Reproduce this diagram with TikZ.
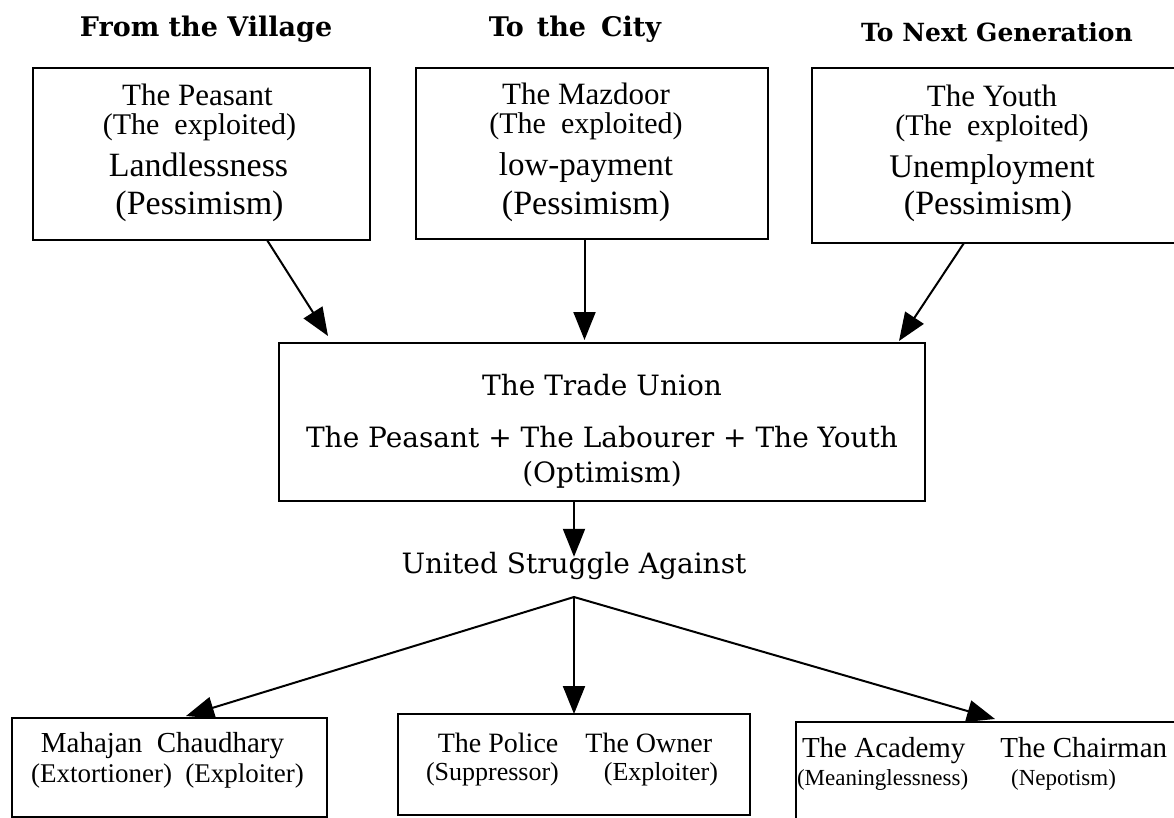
\documentclass[tikz,border=0pt]{standalone}
\usepackage{fontspec}
\setmainfont{Liberation Serif}
\newfontfamily\bk{DejaVu Serif}
\usetikzlibrary{arrows.meta,calc}
\newcommand\Bx[3]{\vbox to #2{\hsize=#1\relax\offinterlineskip #3\vss}}
\newcommand\CLine[3][0pt]{\vskip #2\hbox to \hsize{\hss\kern#1\smash{#3}\kern-#1\hss}}
\newcommand\LLine[3][0pt]{\vskip #2\hbox to \hsize{\kern#1\smash{#3}\hss}}
\newcommand\fs[1]{\fontsize{#1}{#1}\selectfont}
\begin{document}
\begin{tikzpicture}[x=1pt,y=-1pt,
  bx/.style={draw, line width=2.2pt, inner sep=0pt, outer sep=0pt},
  arr/.style={line width=2pt, -{Triangle[length=28pt,width=22pt]}},
  ttl/.style={font=\bk\bfseries, anchor=base, inner sep=0pt},
  bkt/.style={font=\bk\fs{28}, anchor=base, inner sep=0pt}]
\useasboundingbox (0,0) rectangle (1174,818);
\fill[white] (0,0) rectangle (1174,818);
\clip (0,0) rectangle (1174,818);
% titles
\node[ttl] (t1) at (206,37) {\fs{27}From the Village};
\node[ttl] (t2) at (575,37) {\fs{27}To\hskip 13pt the\hskip 15pt City};
\node[ttl] (t3) at (997,42) {\fs{25}To Next Generation};
% top boxes
\node[bx] (p) at (201.5,154) {\Bx{337pt}{172pt}{%
  \CLine[-4pt]{38pt}{\fs{31}The Peasant}%
  \CLine[-2pt]{29pt}{\fs{30}(The\ \ exploited)}%
  \CLine[-3pt]{42pt}{\fs{34}Landlessness}%
  \CLine[-2pt]{38pt}{\fs{34}(Pessimism)}}};
\node[bx] (m) at (592,153.5) {\Bx{352pt}{171pt}{%
  \CLine[-6pt]{37pt}{\fs{31}The Mazdoor}%
  \CLine[-6pt]{29pt}{\fs{30}(The\ \ exploited)}%
  \CLine[-6pt]{42pt}{\fs{33}low-payment}%
  \CLine[-6pt]{39pt}{\fs{34}(Pessimism)}}};
\node[bx] (y) at (994,155.5) {\Bx{364pt}{175pt}{%
  \CLine[-2pt]{39pt}{\fs{31}The Youth}%
  \CLine[-2pt]{29pt}{\fs{30}(The\ \ exploited)}%
  \CLine[-2pt]{42pt}{\fs{33}Unemployment}%
  \CLine[-6pt]{37pt}{\fs{34}(Pessimism)}}};
% trade union
\node[bx] (tu) at (602,422) {\Bx{646pt}{158pt}{\bk
  \CLine{52pt}{\fs{28}The Trade Union}%
  \CLine{52pt}{\fs{28}The Peasant + The Labourer + The Youth}%
  \CLine{35pt}{\fs{28}(Optimism)}}};
\node[bkt, text height=16pt] (us) at (574,573) {United Struggle Against};
\coordinate (apex) at ([yshift=-24pt]us.base);
% bottom boxes
\node[bx] (a) at (169.5,767.5) {\Bx{315pt}{99pt}{%
  \CLine[-7pt]{34pt}{\fs{29}Mahajan\ \ Chaudhary}%
  \CLine[-2pt]{30pt}{\fs{27}(Extortioner)\ \ (Exploiter)}}};
\node[bx] (b) at (574,764.5) {\Bx{352pt}{101pt}{%
  \CLine[1pt]{38pt}{\fs{28}The Police\hskip 27pt The Owner}%
  \CLine[-2pt]{28pt}{\fs{26}(Suppressor)\hskip 45pt(Exploiter)}}};
\node[bx] (c) at (986,771.5) {\Bx{380pt}{99pt}{%
  \LLine[6pt]{35pt}{\fs{29}The Academy\hskip 35pt The Chairman}%
  \LLine[1pt]{28pt}{\fs{23}(Meaninglessness)\hskip 43pt(Nepotism)}}};
% connectors
\draw[arr] ([xshift=65.5pt]p.south) -- ([xshift=-274pt,yshift=7pt]tu.north);
\draw[arr] ([xshift=-7.5pt]m.south) -- ([xshift=-17.5pt,yshift=3pt]tu.north);
\draw[arr] ([xshift=-30pt]y.south) -- ([xshift=297pt,yshift=2pt]tu.north);
\draw[arr] (tu.south -| us.north) -- (us.north);
\draw[arr] (apex) -- ([xshift=16.5pt,yshift=2pt]a.north);
\draw[arr] (apex) -- (apex |- b.north);
\draw[arr] (apex) -- ([xshift=9pt,yshift=3pt]c.north);
\end{tikzpicture}
\end{document}
